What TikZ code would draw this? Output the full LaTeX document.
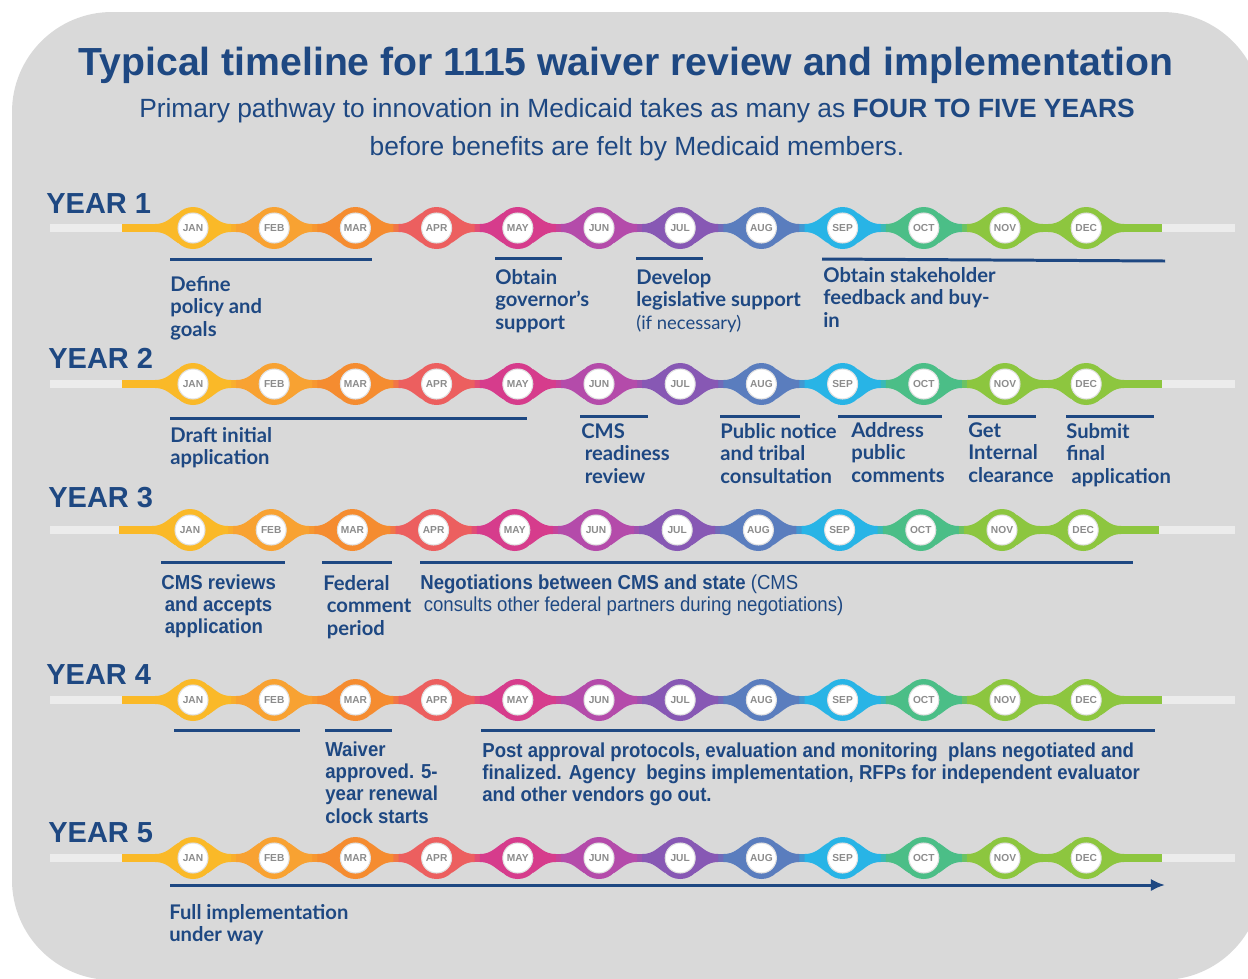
\documentclass[tikz,border=0pt]{standalone}
\usepackage{fontspec}
\setmainfont{Liberation Sans}
\newfontfamily\lato{Lato}
\newfontfamily\narrow[FakeStretch=0.92]{Liberation Sans}
\usetikzlibrary{arrows.meta}
\definecolor{navy}{RGB}{30,72,130}
\definecolor{panel}{RGB}{217,217,217}
\definecolor{rail}{RGB}{236,236,236}
\definecolor{c1}{RGB}{250,185,40}
\definecolor{c2}{RGB}{248,162,50}
\definecolor{c3}{RGB}{245,140,48}
\definecolor{c4}{RGB}{236,95,95}
\definecolor{c5}{RGB}{214,60,140}
\definecolor{c6}{RGB}{180,75,170}
\definecolor{c7}{RGB}{135,88,180}
\definecolor{c8}{RGB}{90,125,190}
\definecolor{c9}{RGB}{40,180,230}
\definecolor{c10}{RGB}{75,190,135}
\definecolor{c11}{RGB}{140,198,63}
\definecolor{c12}{RGB}{141,198,63}
\tikzset{
  month/.style={circle,fill=white,draw=black!12,line width=0.6pt,
    minimum size=0.6cm,inner sep=0pt,text=black!45,
    font=\bfseries\fontsize{5.8}{6}\selectfont},
  task/.style={anchor=north west,align=left,inner sep=0pt,text=navy,
    font=\lato\bfseries\fontsize{11.5}{12.8}\selectfont},
  ntask/.style={task,font=\narrow\bfseries\fontsize{11.5}{12.8}\selectfont},
  yearlabel/.style={anchor=west,inner sep=0pt,text=navy,
    font=\bfseries\fontsize{16.5}{18}\selectfont},
  span/.style={navy,line width=1.7pt}
}
\begin{document}
\begin{tikzpicture}[x=0.02cm,y=-0.02cm]
  \useasboundingbox (0,0) rectangle (1248,978);
  \clip (0,0) rectangle (1248,978);
  \fill[panel,rounded corners=2cm] (12,12) rectangle (1262,980);

  % heading
  \node[text=navy,font=\bfseries\fontsize{22.3}{26}\selectfont] (title)
    at (626,65) {Typical timeline for 1115 waiver review and implementation};
  \node[text=navy,align=center,font=\fontsize{15}{21.5}\selectfont] (subtitle)
    at (637,130) {Primary pathway to innovation in Medicaid takes as many as
    \textbf{FOUR TO FIVE YEARS}\\before benefits are felt by Medicaid members.};

  % one rail per year
  \foreach \yr/\yy/\lx/\ly/\dx in {1/228/46/204/0, 2/384/48/358/0, 3/530/48/498/-3,
                                  4/700/46/675/0, 5/858/48/833/0}{
    \node[yearlabel] (year\yr) at (\lx,\ly) {YEAR \yr};
    \fill[rail] (50,\yy-4) rectangle (1235,\yy+4);
    \coordinate (s\yr) at (122+\dx,\yy);
    \coordinate (e\yr) at (1162+\dx,\yy);
    \foreach \i in {1,...,12}
      \coordinate (p\yr-\i) at (193+\dx+81.2*\i-81.2,\yy);
    \fill[c1] ([yshift=2.2pt]s\yr) rectangle ([yshift=-2.2pt]p\yr-1);
    \foreach \i [evaluate=\i as \j using int(\i+1)] in {1,...,11}
      \shade[left color=c\i,right color=c\j]
        ([yshift=2.2pt]p\yr-\i) rectangle ([yshift=-2.2pt]p\yr-\j);
    \fill[c12] ([yshift=2.2pt]p\yr-12) rectangle ([yshift=-2.2pt]e\yr);
    \foreach \m [count=\i] in {JAN,FEB,MAR,APR,MAY,JUN,JUL,AUG,SEP,OCT,NOV,DEC}{
      \pgfmathsetmacro\x{193+\dx+81.2*\i-81.2}
      \fill[c\i] (\x-38,\yy-4) .. controls (\x-27,\yy-4) and (\x-23,\yy-10) .. (\x-15,\yy-15)
        -- (\x-15,\yy+15) .. controls (\x-23,\yy+10) and (\x-27,\yy+4) .. (\x-38,\yy+4) -- cycle;
      \fill[c\i] (\x+38,\yy-4) .. controls (\x+27,\yy-4) and (\x+23,\yy-10) .. (\x+15,\yy-15)
        -- (\x+15,\yy+15) .. controls (\x+23,\yy+10) and (\x+27,\yy+4) .. (\x+38,\yy+4) -- cycle;
      \fill[c\i] (p\yr-\i) circle (0.42cm);
      \node[month] (m\yr-\i) at (p\yr-\i) {\m};
    }
  }

  % year 1
  \draw[span] (170,259) -- (372,259);
  \draw[span] (495,258) -- (562,258);
  \draw[span] (636,258) -- (703,258);
  \draw[span] (822,259) -- (1165,261);
  \node[task] (define) at (170,276) {Define\\policy and\\goals};
  \node[task] (governor) at (495,269) {Obtain\\governor’s\\support};
  \node[task] (legis) at (636,269)
    {Develop\\legislative support\\{\mdseries\fontsize{10.5}{12}\selectfont(if necessary)}};
  \node[task] (stake) at (823,267) {Obtain stakeholder\\feedback and buy-\\in};

  % year 2
  \draw[span] (170,418) -- (527,418);
  \draw[span] (580,416) -- (648,416);
  \draw[span] (720,416) -- (800,416);
  \draw[span] (838,416) -- (942,416);
  \draw[span] (968,416) -- (1036,416);
  \draw[span] (1066,416) -- (1154,416);
  \node[task] (draft) at (170,427) {Draft initial\\application};
  \node[task] (readiness) at (581,423)
    {CMS\\\hspace*{2pt}readiness\\\hspace*{2pt}review};
  \node[task] (notice) at (720,423) {Public notice\\and tribal\\consultation};
  \node[task] (address) at (851,422) {Address\\public\\comments};
  \node[task] (clearance) at (968,422) {Get\\Internal\\clearance};
  \node[task] (submit) at (1066,423) {Submit\\final\\\hspace*{3pt}application};

  % year 3
  \draw[span] (161,562) -- (285,562);
  \draw[span] (322,562) -- (392,562);
  \draw[span] (420,562) -- (1133,562);
  \node[ntask] (reviews) at (161,574)
    {CMS reviews\\\hspace*{2pt}and accepts\\\hspace*{2pt}application};
  \node[task] (federal) at (323,575) {Federal\\\hspace*{2pt}comment\\\hspace*{2pt}period};
  \node[ntask] (negotiate) at (420,574) {Negotiations between CMS and state
    {\mdseries (CMS}\\\hspace*{2pt}{\mdseries consults other federal partners during negotiations)}};

  % year 4
  \draw[span] (174,730) -- (300,730);
  \draw[span] (325,730) -- (392,730);
  \draw[span] (481,730) -- (1155,730);
  \node[ntask] (waiver) at (325,741) {Waiver\\approved. 5-\\year renewal\\clock starts};
  \node[ntask] (post) at (482,742)
    {Post approval protocols, evaluation and monitoring\ \ plans negotiated and\\
     finalized. Agency\ \ begins implementation, RFPs for independent evaluator\\
     and other vendors go out.};

  % year 5
  \coordinate (go) at (170,885);
  \coordinate (done) at (1165,885);
  \draw[span,-{Latex[length=8pt,width=7pt]}] (go) -- (done);
  \node[task] (full) at (169,904) {Full implementation\\under way};
\end{tikzpicture}
\end{document}
